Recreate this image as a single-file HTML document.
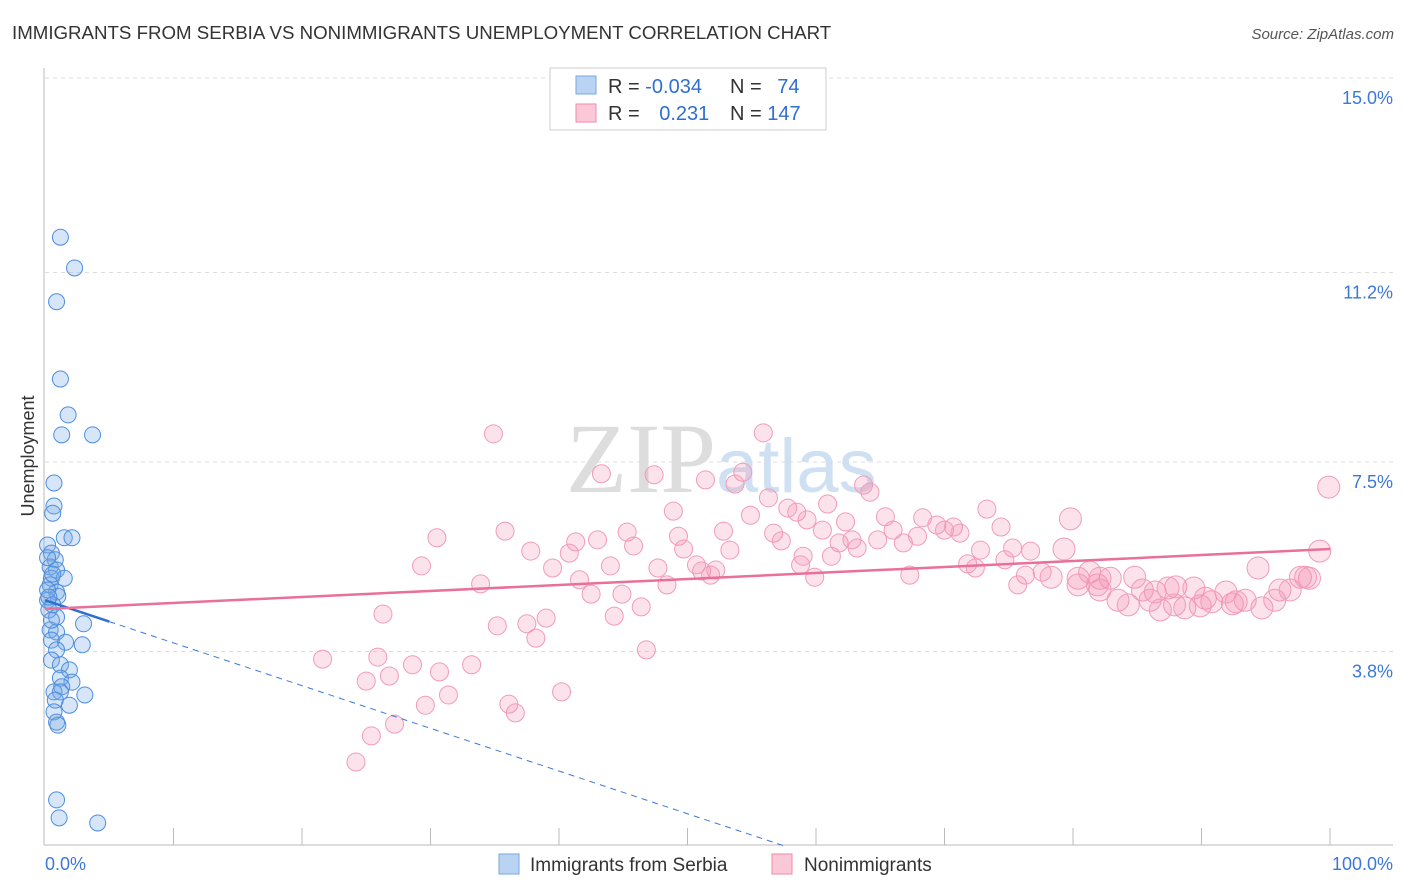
<!DOCTYPE html>
<html><head><meta charset="utf-8"><style>
body{margin:0;background:#fff;font-family:"Liberation Sans",sans-serif;}
svg{display:block}
</style></head><body>
<svg id="chart" width="1406" height="892">
<text x="12" y="39" font-size="18.7" fill="#333">IMMIGRANTS FROM SERBIA VS NONIMMIGRANTS UNEMPLOYMENT CORRELATION CHART</text>
<text x="1394" y="39" font-size="15" fill="#555" font-style="italic" text-anchor="end">Source: ZipAtlas.com</text>
<text x="0" y="0" transform="translate(34,456) rotate(-90)" font-size="18" fill="#333" text-anchor="middle">Unemployment</text>
<g id="grid"></g>
<text x="716" y="492" font-size="100" fill="#ddd" font-family="Liberation Serif,serif" text-anchor="end">ZIP</text>
<text x="716" y="492" font-size="76" fill="#cfe0f3" text-anchor="start">atlas</text>
<g id="marks"></g>
<g>
<rect x="550" y="68" width="276" height="62" fill="#fff" stroke="#ccc"/>
<rect x="576" y="76" width="20" height="18" fill="#b9d3f3" stroke="#7aa7e0"/>
<rect x="576" y="104" width="20" height="18" fill="#fbc8d8" stroke="#f08aab"/>
<text x="608" y="93" font-size="20" fill="#333">R = <tspan fill="#2f6fd0">-0.034</tspan></text>
<text x="730" y="93" font-size="20" fill="#333">N = <tspan dx="10" fill="#2f6fd0">74</tspan></text>
<text x="608" y="120" font-size="20" fill="#333">R = <tspan dx="14" fill="#2f6fd0">0.231</tspan></text>
<text x="730" y="120" font-size="20" fill="#333">N = <tspan fill="#2f6fd0">147</tspan></text>
</g>
<g>
<rect x="499" y="854" width="20" height="20" fill="#b9d3f3" stroke="#7aa7e0"/>
<text x="530" y="871" font-size="19" fill="#333">Immigrants from Serbia</text>
<rect x="772" y="854" width="20" height="20" fill="#fbc8d8" stroke="#f08aab"/>
<text x="804" y="871" font-size="19" fill="#333">Nonimmigrants</text>
</g>
</svg>
<script>
const yTicks=[3.8,7.5,11.2,15.0];
const yTickLabels=["3.8%","7.5%","11.2%","15.0%"];
const xTickLabels=["0.0%","100.0%"];
const blueX=[1.2,2.3,0.9,1.2,1.8,1.3,3.7,0.7,0.7,0.6,1.5,2.1,0.2,0.5,0.8,0.4,0.9,0.5,1.5,0.4,0.9,1.0,0.2,0.6,0.3,0.9,3.0,0.4,0.9,0.5,1.6,2.9,0.9,0.5,1.2,1.9,1.2,2.1,1.3,0.7,1.2,3.1,0.8,1.9,0.7,0.9,1.0,0.9,1.1,4.1,0.2,0.5,0.6,0.2,0.3];
const blueY=[11.89,11.29,10.63,9.12,8.42,8.03,8.03,7.09,6.64,6.50,6.02,6.02,5.88,5.72,5.59,5.45,5.39,5.23,5.23,5.10,4.96,4.88,4.80,4.71,4.61,4.47,4.34,4.22,4.18,4.02,3.98,3.93,3.83,3.63,3.54,3.44,3.28,3.20,3.11,3.01,3.01,2.95,2.85,2.75,2.62,2.42,2.36,0.90,0.55,0.45,5.00,4.41,5.31,5.63,4.86];
const pinkX=[34.9,55.9,43.3,47.4,54.3,53.7,56.3,51.4,63.7,64.2,99.9,48.9,54.9,57.8,58.5,60.9,59.3,60.5,62.3,65.4,68.3,73.3,79.8,35.8,30.5,41.3,43.0,45.3,49.3,52.8,56.7,57.3,61.8,62.8,63.2,64.8,66.0,66.8,67.9,69.4,70.0,70.7,71.2,74.4,37.8,40.8,45.8,49.7,53.3,59.0,61.2,72.8,76.7,79.3,99.2,29.3,39.5,44.0,47.7,50.7,51.1,52.2,58.8,71.8,72.4,74.7,75.3,33.9,41.6,42.5,44.9,48.4,51.8,59.9,67.3,76.3,77.6,78.3,80.4,81.3,82.1,82.9,84.8,85.4,86.4,87.4,88.0,89.4,90.3,91.9,94.4,96.1,97.7,98.4,75.7,80.4,82.1,83.5,84.3,86.0,87.9,88.7,89.9,90.8,92.4,93.4,94.7,95.7,96.9,26.3,44.3,46.4,39.0,35.2,37.5,38.2,21.6,25.9,28.6,33.2,30.7,25.0,26.8,46.8,31.4,29.6,40.2,36.1,36.6,27.2,25.4,24.2,98.1,92.7,86.8,81.9];
const pinkY=[8.05,8.07,7.27,7.25,7.30,7.07,6.80,7.15,7.05,6.91,7.01,6.54,6.46,6.60,6.52,6.68,6.37,6.17,6.33,6.43,6.41,6.58,6.39,6.15,6.02,5.94,5.98,6.13,6.05,6.15,6.11,5.96,5.92,5.98,5.82,5.98,6.17,5.92,6.05,6.27,6.17,6.23,6.11,6.23,5.76,5.72,5.86,5.80,5.78,5.66,5.66,5.78,5.76,5.80,5.76,5.47,5.43,5.47,5.43,5.49,5.37,5.39,5.49,5.51,5.43,5.59,5.82,5.12,5.20,4.92,4.92,5.10,5.29,5.25,5.29,5.29,5.35,5.25,5.23,5.35,5.23,5.23,5.25,5.00,4.96,5.04,5.06,5.04,4.84,4.96,5.43,5.00,5.25,5.23,5.10,5.10,5.00,4.80,4.71,4.80,4.71,4.65,4.69,4.77,4.73,4.80,4.65,4.80,5.00,4.53,4.49,4.67,4.45,4.30,4.34,4.06,3.65,3.69,3.54,3.54,3.40,3.22,3.32,3.83,2.95,2.75,3.01,2.77,2.60,2.38,2.15,1.64,5.25,4.77,4.61,5.10];
const blueTrend=[4.80,-0.0834];
const pinkTrend=[4.63,0.0117];
const NS="http://www.w3.org/2000/svg";
const xs=v=>45+v*12.85;
const ys=v=>78+(15-v)*51.2;
const grid=document.getElementById('grid'),marks=document.getElementById('marks');
function mk(tag,at,parent){const e=document.createElementNS(NS,tag);for(const k in at)e.setAttribute(k,at[k]);parent.appendChild(e);return e;}
yTicks.forEach((t,i)=>{
 const l=mk('line',{x1:45,x2:1393,y1:ys(t),y2:ys(t),stroke:'#ddd','stroke-dasharray':'4,4'},grid);
 
 
 const tx=mk('text',{x:1393,y:ys(t)+26,'font-size':18,fill:'#3b78d8','text-anchor':'end'},grid);
 tx.textContent=yTickLabels[i];
 
 
});
let ax=mk('line',{x1:44,x2:44,y1:68,y2:845,stroke:'#bbb'},grid);


ax=mk('line',{x1:44,x2:1393,y1:845,y2:845,stroke:'#bbb'},grid);


for(let i=1;i<=10;i++){const t=mk('line',{x1:xs(i*10),x2:xs(i*10),y1:828,y2:845,stroke:'#bbb'},grid);
 
 }
[[0,45,'start'],[100,1393,'end']].forEach((d,i)=>{const t=mk('text',{x:d[1],y:870,'font-size':18,fill:'#3b78d8','text-anchor':d[2]},grid);t.textContent=xTickLabels[i];
 
 });
pinkX.forEach((x,i)=>{const c=mk('circle',{cx:xs(x),cy:ys(pinkY[i]),r:x>78?11:9,fill:'rgba(244,143,177,0.25)',stroke:'#f29bb9','stroke-width':1},marks);
 
 });
blueX.forEach((x,i)=>{const c=mk('circle',{cx:xs(x),cy:ys(blueY[i]),r:8,fill:'rgba(120,170,230,0.3)',stroke:'#4d8ee0','stroke-width':1},marks);
 
 });
const xEnd=-blueTrend[0]/blueTrend[1];
let l=mk('line',{x1:xs(5),y1:ys(blueTrend[0]+blueTrend[1]*5),x2:xs(xEnd),y2:ys(0),stroke:'#3b78d8','stroke-dasharray':'6,5','stroke-width':1},marks);


l=mk('line',{x1:xs(0),y1:ys(blueTrend[0]),x2:xs(5),y2:ys(blueTrend[0]+blueTrend[1]*5),stroke:'#2f6fd0','stroke-width':2.5},marks);


l=mk('line',{x1:xs(0),y1:ys(pinkTrend[0]),x2:xs(100),y2:ys(pinkTrend[0]+pinkTrend[1]*100),stroke:'#e8709a','stroke-width':2.5},marks);


</script>
</body></html>
